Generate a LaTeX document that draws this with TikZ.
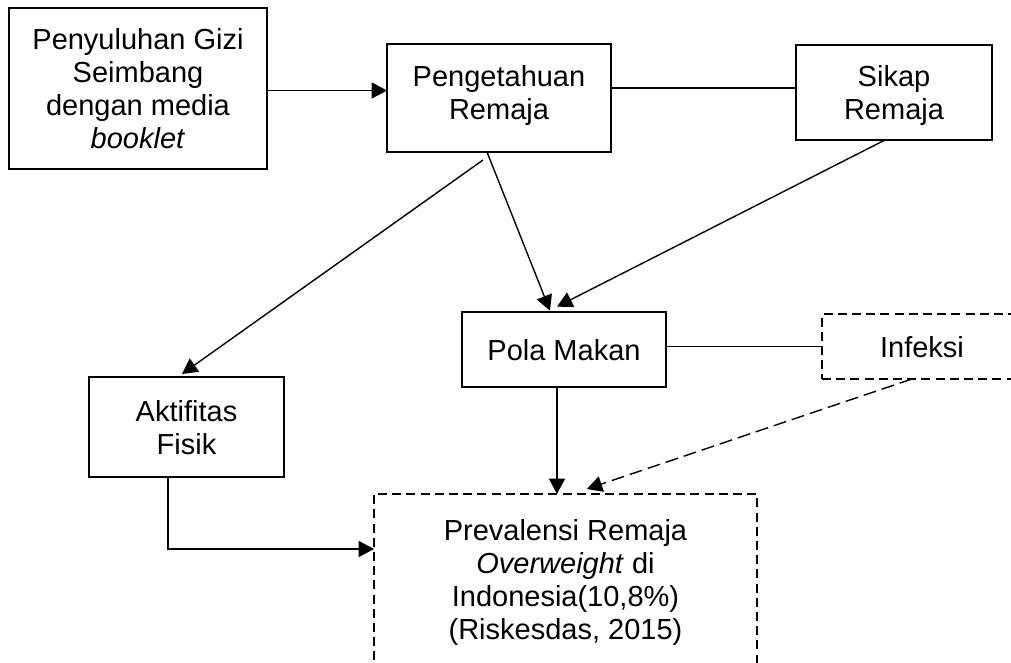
\documentclass[tikz,border=0pt]{standalone}
\usepackage{fontspec}
\setmainfont{Liberation Sans}
\usetikzlibrary{arrows.meta}
\begin{document}
\begin{tikzpicture}[x=0.75pt,y=-0.75pt,
  box/.style={draw, line width=1.8pt, inner sep=0pt, outer sep=0pt, align=center,
    text depth=0pt, font=\fontsize{21.75pt}{24.75pt}\selectfont},
  dbox/.style={box, line width=1.8pt, dash pattern=on 6.75pt off 3.9pt},
  arr/.style={line width=1.05pt, -{Triangle[length=11.5pt,width=12pt]}},
  link/.style={line width=1.4pt},
  darr/.style={arr, dash pattern=on 9.75pt off 4.5pt}]
\fill[white] (0,0) rectangle (1011,663);
\useasboundingbox (0,0) rectangle (1011,663);

\node[box, minimum width=193.5pt, minimum height=120.75pt] (peny) at (138,88.5)
  {Penyuluhan Gizi\\Seimbang\\dengan media\\\textit{booklet}};
\node[box, minimum width=168pt, minimum height=81pt, text depth=9pt] (peng) at (499,98)
  {Pengetahuan\\Remaja};
\node[box, minimum width=147pt, minimum height=71.25pt] (sikap) at (894,92.5)
  {Sikap\\Remaja};
\node[box, minimum width=153pt, minimum height=56.25pt] (pola) at (564,349.5)
  {Pola Makan};
\node[dbox, minimum width=150pt, minimum height=48.75pt] (infeksi) at (922,346.5)
  {Infeksi};
\node[box, minimum width=146.25pt, minimum height=75pt] (akt) at (186.5,427)
  {Aktifitas\\Fisik};
\node[dbox, minimum width=287.25pt, minimum height=127.5pt] (prev) at (565.5,579)
  {Prevalensi Remaja\\\textit{Overweight} di\\Indonesia(10,8\%)\\(Riskesdas, 2015)};

% connectors
\coordinate (pe) at ([yshift=-1.5pt]peny.east);
\draw[arr] (pe) -- (pe -| peng.west);

\coordinate (ps) at ([yshift=3.4pt]sikap.west);
\draw[link] (ps -| peng.east) -- (ps);

\draw[arr] ([xshift=-9pt]peng.south) -- ([xshift=-10.5pt,yshift=1pt]pola.north);
\draw[arr] ([xshift=-6.75pt]sikap.south) -- ([xshift=-5.25pt,yshift=4pt]pola.north);
\draw[arr] ([xshift=-12pt,yshift=-6pt]peng.south) -- ([xshift=-3.4pt,yshift=2.25pt]akt.north);

\draw[link] (infeksi.west -| pola.east) -- (infeksi.west);

\coordinate (pd) at ([xshift=-5.25pt]pola.south);
\draw[arr] (pd) -- (pd |- prev.north);

\draw[darr] ([xshift=-7.5pt]infeksi.south) -- ([xshift=16pt,yshift=3.75pt]prev.north);

\coordinate (pa) at ([yshift=22.5pt]prev.west);
\draw[arr] ([xshift=-14pt]akt.south) |- (pa);
\end{tikzpicture}
\end{document}
